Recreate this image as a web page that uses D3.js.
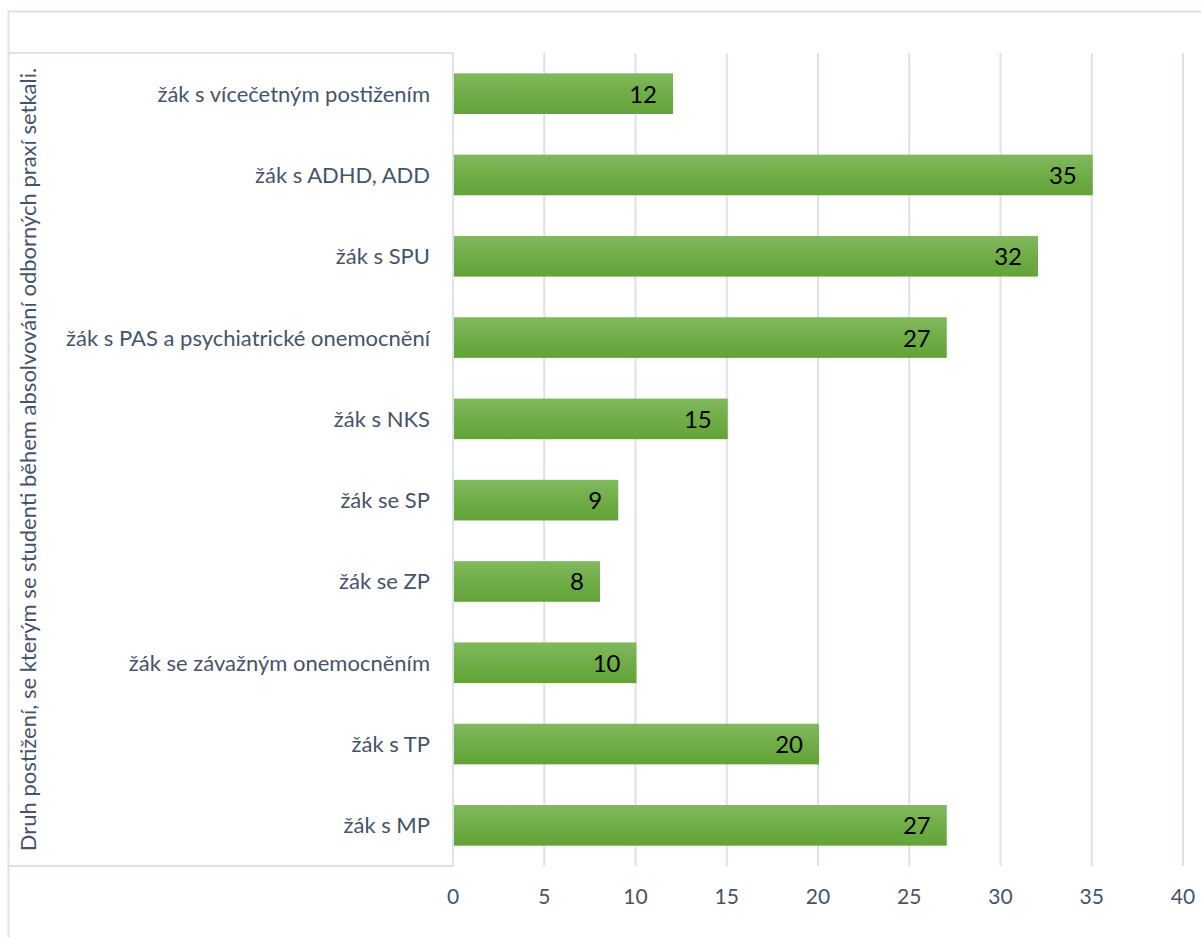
<!DOCTYPE html>
<html lang="cs">
<head>
<meta charset="utf-8">
<title>Druh postižení</title>
<script src="https://cdn.jsdelivr.net/npm/d3@7"></script>
<style>
  body { margin: 0; background: #fff; }
  text { font-family: Lato, "Open Sans", sans-serif; }
</style>
</head>
<body>
<script>
// data, top to bottom
var categories = ["žák s vícečetným postižením", "žák s ADHD, ADD", "žák s SPU",
  "žák s PAS a psychiatrické onemocnění", "žák s NKS", "žák se SP", "žák se ZP",
  "žák se závažným onemocněním", "žák s TP", "žák s MP"];
var values = [12, 35, 32, 27, 15, 9, 8, 10, 20, 27];
var ticks = [0, 5, 10, 15, 20, 25, 30, 35, 40];
var axisTitle = "Druh postižení, se kterým se studenti během absolvování odborných praxí setkali.";

var w = 1201, h = 937;
// plot area edges (note: "top" is reserved on window)
var plotL = 454, plotR = 1184, plotT = 53, plotB = 866;

var svg = d3.select("body").append("svg")
  .attr("width", w).attr("height", h);

var grad = svg.append("defs").append("linearGradient")
  .attr("id", "barGrad").attr("x1", 0).attr("y1", 0).attr("x2", 0).attr("y2", 1);
grad.append("stop").attr("offset", "0%").attr("stop-color", "#81ba5e");
grad.append("stop").attr("offset", "50%").attr("stop-color", "#70ad47");
grad.append("stop").attr("offset", "100%").attr("stop-color", "#62a338");

var x = d3.scaleLinear().domain([0, 40]).range([plotL, plotR]);
var y = d3.scaleBand().domain(categories).range([plotT, plotB]).paddingInner(0.5).paddingOuter(0.25);

var lineCol = "#dde2ea";

// outer frame lines
svg.append("path")
  .attr("d", "M8.5," + h + "V11.5H" + w)
  .attr("fill", "none").attr("stroke", lineCol).attr("stroke-width", 2);

// box around labels
svg.append("path")
  .attr("d", "M8.5," + plotT + "H" + (plotL - 1) + "M8.5," + plotB + "H" + (plotL - 1))
  .attr("fill", "none").attr("stroke", lineCol).attr("stroke-width", 2);

// grid
svg.selectAll("line.grid")
  .data(ticks)
  .enter()
  .append("line")
  .attr("class", "grid")
  .attr("x1", function(d) { return x(d) - 1; })
  .attr("x2", function(d) { return x(d) - 1; })
  .attr("y1", plotT).attr("y2", plotB)
  .attr("stroke", lineCol).attr("stroke-width", 2);

// tick labels
svg.selectAll("text.tick")
  .data(ticks)
  .enter()
  .append("text")
  .attr("class", "tick")
  .attr("x", function(d) { return x(d) - 1; })
  .attr("y", 904)
  .attr("text-anchor", "middle")
  .attr("font-size", "21px")
  .attr("fill", "#44546a")
  .text(function(d) { return d; });

// bars
svg.selectAll("rect.bar")
  .data(values)
  .enter()
  .append("rect")
  .attr("class", "bar")
  .attr("x", x(0))
  .attr("y", function(d, i) { return y(categories[i]); })
  .attr("width", function(d) { return x(d) - x(0); })
  .attr("height", y.bandwidth())
  .attr("fill", "url(#barGrad)");

// data labels
svg.selectAll("text.val")
  .data(values)
  .enter()
  .append("text")
  .attr("class", "val")
  .attr("x", function(d) { return x(d) - 16; })
  .attr("y", function(d, i) { return y(categories[i]) + y.bandwidth() / 2 + 9; })
  .attr("text-anchor", "end")
  .attr("font-size", "24px")
  .attr("fill", "#000")
  .text(function(d) { return d; });

// category labels
svg.selectAll("text.cat")
  .data(categories)
  .enter()
  .append("text")
  .attr("class", "cat")
  .attr("x", 430)
  .attr("y", function(d) { return y(d) + y.bandwidth() / 2 + 8; })
  .attr("text-anchor", "end")
  .attr("font-size", "22px")
  .attr("fill", "#44546a")
  .text(function(d) { return d; });

// axis title
svg.append("text")
  .attr("transform", "translate(36," + ((plotT + plotB) / 2) + ") rotate(-90)")
  .attr("text-anchor", "middle")
  .attr("font-size", "22px")
  .attr("fill", "#44546a")
  .text(axisTitle);
</script>
</body>
</html>
